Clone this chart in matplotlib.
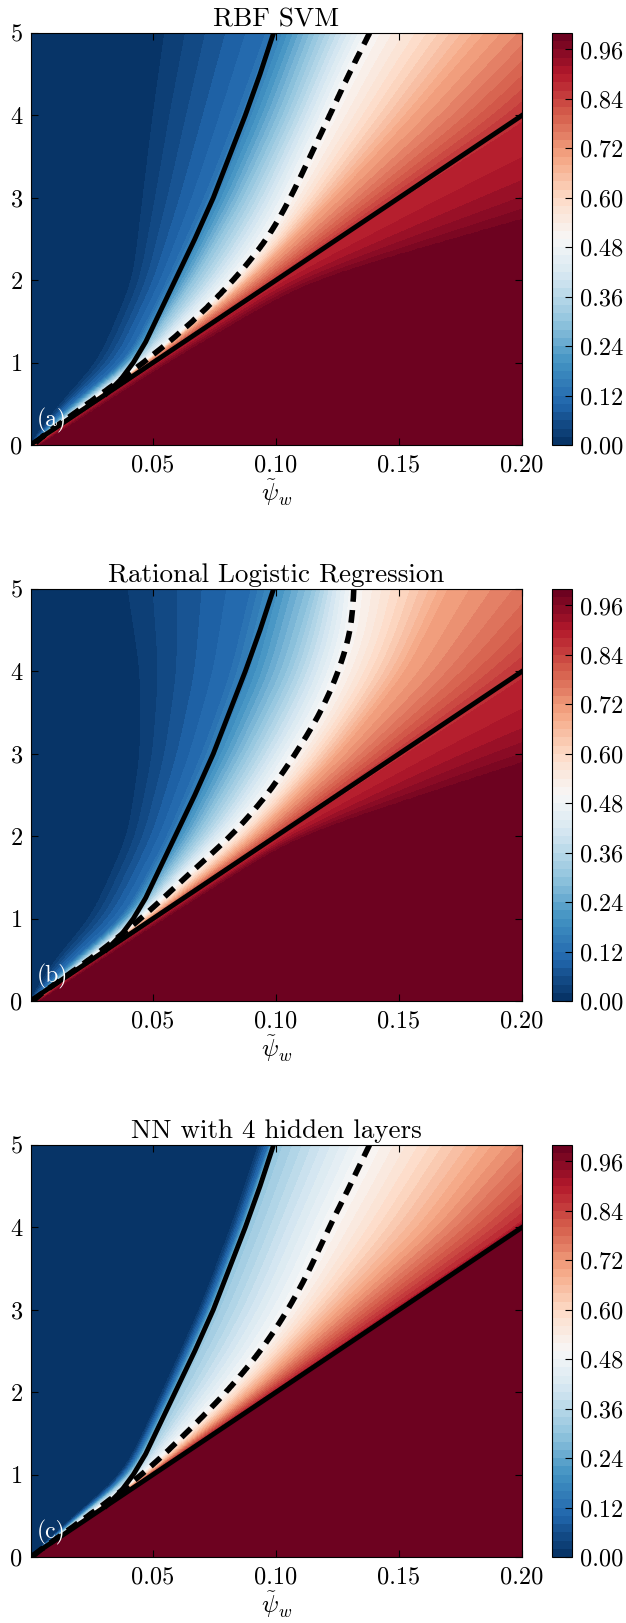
import numpy as np
import matplotlib
matplotlib.use("Agg")
import matplotlib.pyplot as plt
from matplotlib.ticker import FormatStrFormatter

plt.rcParams['font.family'] = 'cmr10'
plt.rcParams['mathtext.fontset'] = 'cm'
plt.rcParams['axes.unicode_minus'] = False
plt.rcParams['axes.formatter.use_mathtext'] = True

titles = ["RBF SVM", "Rational Logistic Regression", "NN with 4 hidden layers"]
tags = ["(a)", "(b)", "(c)"]

# theory lines (same in every panel)
line_x = [0.0, 0.2]
line_y = [0.0, 4.0]
sol_y = [0.62, 0.8, 1.0, 1.25, 1.5, 2.0, 2.5, 3.0, 3.5, 4.0, 4.5, 5.0]
sol_x = [0.031, 0.037, 0.042, 0.047, 0.051, 0.059, 0.067, 0.0745, 0.081, 0.0875, 0.0935, 0.099]

# x of the p = 0.5 boundary of each classifier (dashed), read at these heights
dash_y = [0.0, 0.5, 1.0, 1.5, 2.0, 2.5, 3.0, 3.5, 4.0, 4.5, 5.0]
dash_x_a = [0.0, 0.0235, 0.0465, 0.0666, 0.083, 0.0967, 0.106, 0.1138, 0.1218, 0.1295, 0.138]
dash_x_b = [0.0, 0.0245, 0.0455, 0.063, 0.082, 0.0966, 0.108, 0.1183, 0.1255, 0.1306, 0.1316]
dash_x_c = [0.0, 0.024, 0.046, 0.0635, 0.080, 0.094, 0.105, 0.114, 0.1215, 0.130, 0.138]

# x of the other probability contours, read at these heights
anchor_y = [0.0, 0.5, 1.0, 2.0, 3.0, 4.0, 5.0]
lev_lo = [0.02, 0.12, 0.30]
lev_hi = [0.70, 0.88, 0.98]

a_02 = [0.000, 0.012, 0.028, 0.042, 0.046, 0.050, 0.055]
a_12 = [0.0005, 0.016, 0.039, 0.056, 0.071, 0.084, 0.096]
a_30 = [0.001, 0.020, 0.043, 0.067, 0.087, 0.103, 0.116]
a_70 = [0.002, 0.0243, 0.048, 0.090, 0.124, 0.156, 0.185]
a_88 = [0.003, 0.0255, 0.0505, 0.101, 0.152, 0.205, 0.245]
a_98 = [0.004, 0.030, 0.056, 0.113, 0.230, 0.350, 0.450]

b_02 = [0.000, 0.010, 0.025, 0.040, 0.045, 0.045, 0.040]
b_12 = [0.0005, 0.017, 0.038, 0.056, 0.070, 0.082, 0.090]
b_30 = [0.001, 0.021, 0.042, 0.068, 0.088, 0.105, 0.115]
b_70 = [0.002, 0.0248, 0.0485, 0.092, 0.126, 0.153, 0.170]
b_88 = [0.003, 0.026, 0.051, 0.102, 0.153, 0.205, 0.250]
b_98 = [0.004, 0.029, 0.055, 0.108, 0.210, 0.330, 0.450]

c_02 = [0.000, 0.018, 0.038, 0.054, 0.069, 0.082, 0.093]
c_12 = [0.0003, 0.0195, 0.040, 0.0565, 0.072, 0.085, 0.097]
c_30 = [0.0006, 0.021, 0.0425, 0.059, 0.0745, 0.0875, 0.099]
c_70 = [0.001, 0.0243, 0.048, 0.090, 0.126, 0.162, 0.188]
c_88 = [0.0015, 0.0246, 0.0495, 0.0985, 0.1475, 0.197, 0.240]
c_98 = [0.002, 0.025, 0.0502, 0.1003, 0.1505, 0.2005, 0.252]

panels = [
    (dash_x_a, [a_02, a_12, a_30], [a_70, a_88, a_98]),
    (dash_x_b, [b_02, b_12, b_30], [b_70, b_88, b_98]),
    (dash_x_c, [c_02, c_12, c_30], [c_70, c_88, c_98]),
]


def smooth(p, s=20):
    # gaussian smoothing along y, odd reflection at the ends
    k = np.arange(-3 * s, 3 * s + 1)
    w = np.exp(-0.5 * (k / s) ** 2)
    w /= w.sum()
    n = 3 * s
    q = np.concatenate([2 * p[0] - p[1:n + 1][::-1], p, 2 * p[-1] - p[-n - 1:-1][::-1]])
    return np.convolve(q, w, mode='valid')


def build_field(xg, yg, dash_x, lo, hi):
    pos = [np.interp(yg, anchor_y, c) for c in lo]
    pos.append(np.interp(yg, dash_y, dash_x))
    pos += [np.interp(yg, anchor_y, c) for c in hi]
    pos = np.array([smooth(p) for p in pos])
    pos = np.maximum.accumulate(pos, axis=0)
    levs = [0.005] + lev_lo + [0.5] + lev_hi + [1.0]
    P = np.zeros((len(yg), len(xg)))
    for i in range(len(yg)):
        xp = pos[:, i] + np.arange(pos.shape[0]) * 1e-6
        xp = np.concatenate([[-0.002], xp, [1.0]])
        P[i] = np.interp(xg, xp, levs)
    return P


xg = np.linspace(0.0004, 0.2, 500)
yg = np.linspace(0.0, 5.0, 501)
X, Y = np.meshgrid(xg, yg)

fig = plt.figure(figsize=(6.26, 16.23), dpi=100)
W, H = 626.0, 1623.0
tops = [33, 589, 1145]

for k, (dash_x, lo, hi) in enumerate(panels):
    top = tops[k]
    ax = fig.add_axes([31 / W, 1 - (top + 412) / H, 491 / W, 412 / H])
    cax = fig.add_axes([552 / W, 1 - (top + 412) / H, 20 / W, 412 / H])

    P = build_field(xg, yg, dash_x, lo, hi)
    cf = ax.contourf(X, Y, P, levels=np.linspace(0, 1, 51), cmap='RdBu_r',
                     vmin=0, vmax=1)
    # dashed line = p = 0.5 contour of the classifier
    cs = ax.contour(X, Y, P, levels=[0.5])
    segs = cs.allsegs[0]
    cs.remove()
    for seg in segs:
        ax.plot(seg[:, 0], seg[:, 1], color='k', lw=4, ls=(0, (2.3, 1.5)))
    ax.plot(line_x, line_y, 'k-', lw=3.5)
    ax.plot(sol_x, sol_y, 'k-', lw=3.5)
    ax.text(0.0027, 0.3, tags[k], color='white', fontsize=17, va='center')

    ax.set_xlim(0.0004, 0.2)
    ax.set_ylim(0, 5)
    ax.set_xticks([0.05, 0.10, 0.15, 0.20])
    ax.set_yticks([0, 1, 2, 3, 4, 5])
    ax.xaxis.set_major_formatter(FormatStrFormatter('%.2f'))
    ax.yaxis.set_major_formatter(FormatStrFormatter('%d'))
    ax.tick_params(direction='in', top=True, right=True, labelsize=17.5,
                   length=5, width=0.8, pad=6)
    ax.tick_params(axis='x', pad=7)
    ax.set_title(titles[k], fontsize=19.5, pad=5)
    ax.set_xlabel(r'$\tilde{\psi}_w$', fontsize=18, labelpad=0)

    cb = fig.colorbar(cf, cax=cax)
    cb.set_ticks(np.arange(0, 0.97, 0.12))
    cb.ax.yaxis.set_major_formatter(FormatStrFormatter('%.2f'))
    cb.ax.tick_params(direction='in', labelsize=17.5, length=5, width=0.8, pad=6)

plt.savefig("out.png", dpi=100, facecolor='w')
